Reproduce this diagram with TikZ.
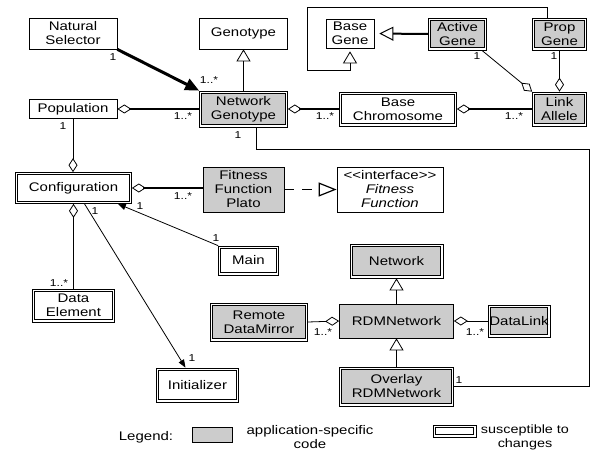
\documentclass[tikz,border=0pt]{standalone}
\usepackage{fontspec}
\setmainfont{Liberation Sans}[FakeStretch=1.2]
\usetikzlibrary{arrows.meta,calc}

\begin{document}
\begin{tikzpicture}[x=1pt,y=-1pt,
  font=\fontsize{12.5}{14}\selectfont,
  sz/.style 2 args={minimum width=#1pt, minimum height=#2pt},
  base/.style={align=center, inner sep=0pt, line width=0.7pt},
  plain/.style={base, draw, fill=white},
  plaing/.style={base, draw, fill=gray!40},
  inner frame/.style={path picture={
    \draw[line width=1.1pt, fill=#1]
      ([shift={(2.3pt,-2.3pt)}]path picture bounding box.north west) rectangle
      ([shift={(-2.3pt,2.3pt)}]path picture bounding box.south east);}},
  dbl/.style={base, draw, fill=white, inner frame=white},
  dblg/.style={base, draw, fill=white, inner frame=gray!40},
  lbl/.style={font=\fontsize{10}{11}\selectfont, inner sep=0pt},
  thin/.style={line width=0.8pt},
  heavy/.style={line width=2.6pt},
  gen/.style={thin, -{Triangle[open, length=12pt, width=14pt, line width=0.8pt]}},
  agg/.style={{Diamond[open, length=14pt, width=9pt, line width=0.8pt]}-},
  aggend/.style={-{Diamond[open, length=14pt, width=9pt, line width=0.8pt]}},
  nav/.style={thin, -{Triangle[length=8pt, width=6pt]}},
]
\useasboundingbox (0,0) rectangle (603,452);

% classes
\node[plain, sz={88}{31}] (ns) at (73,33.5) {Natural\\Selector};
\node[plain, sz={88}{31}] (geno) at (243.5,33.5) {Genotype};
\node[plain, sz={88}{19}] (pop) at (73,109) {Population};
\node[dblg, sz={88}{36}] (ng) at (243.5,109) {Network\\Genotype};
\node[plain, sz={48}{29}] (bg) at (350,33.5) {Base\\Gene};
\node[dblg, sz={58}{32}] (ag) at (457.5,34) {Active\\Gene};
\node[dblg, sz={54}{32}] (pg) at (559.5,34) {Prop\\Gene};
\node[dbl, sz={117}{34}] (bc) at (398,109) {Base\\Chromosome};
\node[dblg, sz={54}{34}] (la) at (559.5,109) {Link\\Allele};
\node[dbl, sz={116}{31}] (conf) at (73.5,188) {Configuration};
\node[plaing, sz={81}{45}] (ffp) at (243.5,189.5) {Fitness\\Function\\Plato};
\node[plain, sz={106}{45}] (ff) at (390,189.5) {<{}<interface>{}>\\\textit{Fitness}\\\textit{Function}};
\node[dbl, sz={60}{29}] (main) at (248.5,260.5) {Main};
\node[dbl, sz={82}{33}] (de) at (73.5,305.5) {Data\\Element};
\node[dbl, sz={82}{34}] (init) at (197.5,385) {Initializer};
\node[dblg, sz={93}{34}] (net) at (396.5,261) {Network};
\node[dblg, sz={97}{38}] (rdm) at (259,322) {Remote\\DataMirror};
\node[plaing, sz={114}{34}] (rdmn) at (396.5,321) {RDMNetwork};
\node[dblg, sz={62}{32}] (dl) at (519,321) {DataLink};
\node[dblg, sz={114}{39}] (ov) at (396.5,386.5) {Overlay\\RDMNetwork};

% relations
\draw[line width=3pt, -{Triangle[length=14pt, width=12pt]}] (ns.south east) -- (ng.north west);
\node[lbl] (m1) at (113,57) {1};
\node[lbl] (m2) at (209,80) {1..*};

\draw[gen] (ng.north) -- (geno.south);

\draw[heavy, agg] (pop.east) -- (ng.west);
\node[lbl] (m3) at (183,116) {1..*};

\draw[thin, aggend] (pop.south) -- (pop.south |- conf.north);
\node[lbl] (m4) at (63,126) {1};

\draw[heavy, agg] (ng.east) -- (bc.west);
\node[lbl] (m5) at (325,116) {1..*};
\draw[heavy, agg] (bc.east) -- (la.west);
\node[lbl] (m6) at (514,116) {1..*};

\draw[thin, aggend] ($(ag.south east)+(-5,0)$) -- (la.north west);
\node[lbl] (m7) at (477,56) {1};
\draw[thin, aggend] (pg.south) -- (la.north);
\node[lbl] (m8) at (554,56) {1};

\draw[line width=2pt, -{Triangle[open, length=14pt, width=14pt, line width=1pt]}, shorten >=5pt] (ag.west) -- (bg.east);
\draw[gen, shorten >=3pt] ($(pg.north)+(-12.5,0)$) -- ++(0,-10) -| (307,70) -| (bg.south);

\draw[heavy, agg] (conf.east) -- (conf.east -| ffp.west);
\node[lbl] (m9) at (183,196) {1..*};

\draw[line width=1.3pt, dash pattern=on 10pt off 8pt,
  -{Triangle[open, length=18pt, width=14pt, line width=1.2pt]}] (ffp.east) -- (ff.west);

\draw[nav] (main.north west) -- ($(conf.south east)+(-14,0)$);
\node[lbl] (m10) at (216,238) {1};
\node[lbl] (m11) at (140,206) {1};

\draw[thin, agg] (conf.south) -- (conf.south |- de.north);
\node[lbl] (m12) at (59,283) {1..*};

\draw[nav] ($(conf.south)+(11,0)$) -- ($(init.north)+(-12,0)$);
\node[lbl] (m13) at (95,211) {1};
\node[lbl] (m14) at (192,358) {1};

\draw[thin] ($(ng.south)+(12.5,0)$) -- ++(0,22) -| ($(ov.east)+(136,0)$) -- (ov.east);
\node[lbl] (m15) at (238,135) {1};
\node[lbl] (m16) at (459,380) {1};

\draw[gen] (rdmn.north) -- (net.south);
\draw[gen] (ov.north) -- (rdmn.south);

\draw[thin, aggend] (rdm.east) -- (rdmn.west);
\node[lbl] (m17) at (323,332) {1..*};
\draw[thin, aggend] (dl.west) -- (rdmn.east);
\node[lbl] (m18) at (475,332) {1..*};

% legend
\node[inner sep=0pt] (leg) at (146,437) {Legend:};
\node[plaing, sz={40}{15}] (lg1) at (212,434.5) {};
\node[inner sep=0pt, align=center] (lt1) at (310,437) {application-specific\\code};
\node[dbl, sz={43}{12}, inner frame=white] (lg2) at (454.5,431) {};
\node[inner sep=0pt, align=center, font=\fontsize{12}{14}\selectfont] (lt2) at (525,437) {susceptible to\\changes};
\end{tikzpicture}
\end{document}
